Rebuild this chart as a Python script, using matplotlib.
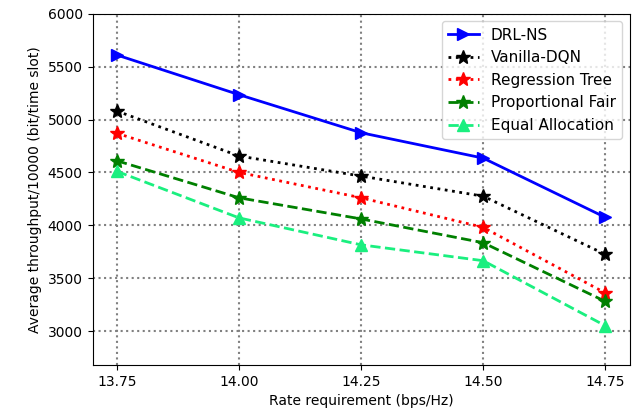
import matplotlib
matplotlib.use('Agg')
import matplotlib.pyplot as plt

rate = [13.75, 14.00, 14.25, 14.50, 14.75]

drl_ns = [5610, 5235, 4875, 4635, 4075]
vanilla_dqn = [5080, 4655, 4465, 4275, 3725]
regression_tree = [4870, 4500, 4260, 3980, 3360]
proportional_fair = [4610, 4260, 4060, 3835, 3280]
equal_allocation = [4510, 4070, 3815, 3665, 3050]

fig, ax = plt.subplots(figsize=(6.38, 4.17), dpi=100)

ax.plot(rate, drl_ns, color='blue', linestyle='-', marker='>', markersize=9, linewidth=2, label='DRL-NS')
ax.plot(rate, vanilla_dqn, color='black', linestyle=':', marker='*', markersize=10, linewidth=2, label='Vanilla-DQN')
ax.plot(rate, regression_tree, color='red', linestyle=':', marker='*', markersize=10, linewidth=2, label='Regression Tree')
ax.plot(rate, proportional_fair, color='green', linestyle='--', marker='*', markersize=10, linewidth=2, label='Proportional Fair')
ax.plot(rate, equal_allocation, color='#1aef7f', linestyle='--', marker='^', markersize=9, linewidth=2, label='Equal Allocation')

ax.set_xlim(13.70, 14.80)
ax.set_ylim(2680, 6000)
ax.set_xticks(rate)
ax.set_xticklabels(['13.75', '14.00', '14.25', '14.50', '14.75'])
ax.set_yticks([3000, 3500, 4000, 4500, 5000, 5500, 6000])

ax.grid(True, linestyle=':', color='gray', linewidth=1.5)
ax.set_xlabel('Rate requirement (bps/Hz)')
ax.set_ylabel('Average throughput/10000 (bit/time slot)')
ax.legend(loc='upper right', fontsize=11)

plt.subplots_adjust(left=0.145, right=0.987, top=0.967, bottom=0.125)
plt.savefig('out.png')
